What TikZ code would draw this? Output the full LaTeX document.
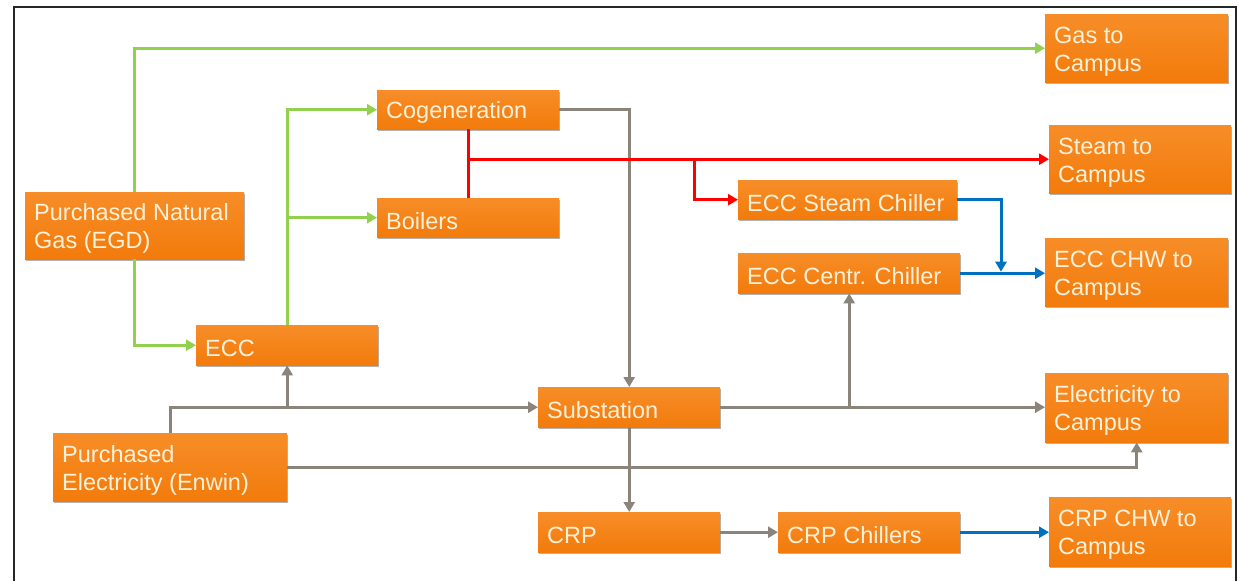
\documentclass[tikz,border=0pt]{standalone}
\usepackage{fontspec}
\setmainfont{Liberation Sans}
\usetikzlibrary{arrows.meta,shadows}
\definecolor{boxorange}{HTML}{F27B0B}
\definecolor{boxtop}{HTML}{F78D28}
\definecolor{boxtext}{HTML}{FFF1DA}
\definecolor{lgreen}{HTML}{92D050}
\definecolor{lred}{HTML}{FF0000}
\definecolor{lgray}{HTML}{8A847B}
\definecolor{lblue}{HTML}{0070C0}
\tikzset{
  box/.style 2 args={anchor=north west, text width=#1pt, minimum height=#2pt,
    inner xsep=9pt, inner ysep=0pt, align=flush left,
    top color=boxtop, bottom color=boxorange, draw=none,
    font=\fontsize{23.5}{28}\selectfont, text=boxtext,
    execute at begin node={\rule{0pt}{23pt}},
    drop shadow={shadow xshift=1pt, shadow yshift=-2pt, fill=black, opacity=0.3}},
  conn/.style={line width=3pt, -{Triangle[length=10pt,width=11pt]}},
  gline/.style={conn, draw=lgreen},
  rline/.style={conn, draw=lred},
  bline/.style={conn, draw=lblue},
  gyline/.style={conn, draw=lgray},
}
\begin{document}
\begin{tikzpicture}[x=1pt,y=-1pt]
\useasboundingbox (0,0) rectangle (1241,581);
\fill[white] (0,0) rectangle (1241,581);
\draw[line width=2pt, color=black!85] (14,581) -- (14,7) -- (1236,7) -- (1236,581);

% nodes
\node[box={165}{68}] (gas) at (1045,14) {Gas to\\Campus};
\node[box={164}{68}] (steam) at (1049,125) {Steam to\\Campus};
\node[box={165}{68}] (eccchw) at (1045,238) {ECC CHW to\\Campus};
\node[box={165}{69}] (elec) at (1045,373) {Electricity to\\Campus};
\node[box={164}{69}] (crpchw) at (1049,497) {CRP CHW to\\Campus};
\node[box={164}{39}] (cogen) at (377,90) {Cogeneration};
\node[box={164}{39}] (boil) at (377,198) {Boilers};
\node[box={201}{39}] (esc) at (738,180) {ECC Steam Chiller};
\node[box={204}{40}] (ecent) at (738,253) {ECC Centr. Chiller};
\node[box={201}{67}] (png) at (25,192) {Purchased Natural\\Gas (EGD)};
\node[box={164}{40}] (ecc) at (196,325) {ECC};
\node[box={164}{40}] (sub) at (538,387) {Substation};
\node[box={216}{68}] (pe) at (53,433) {Purchased\\Electricity (Enwin)};
\node[box={164}{40}] (crp) at (538,512) {CRP};
\node[box={164}{40}] (crpch) at (778,512) {CRP Chillers};

\coordinate (redbr) at (694,0);
\coordinate (bluej) at (1001,0);

% gray (electricity)
\draw[gyline] (cogen.east) -| (sub.north);
\draw[gyline] (pe.north) |- (sub.west);
\draw[gyline] (ecc.south |- sub.west) -- (ecc.south);
\draw[gyline] (sub.east) -- (sub.east -| elec.west);
\draw[gyline] (ecent.south |- sub.east) -- (ecent.south);
\draw[gyline] (sub.south) -- (crp.north);
\draw[gyline] (pe.east) -| (elec.south);
\draw[gyline] (crp.east) -- (crpch.west);

% green (gas)
\draw[gline] (png.north) |- (gas.west);
\draw[gline] (png.south) |- (ecc.west);
\draw[gline] (ecc.north) |- (cogen.west);
\draw[gline] (ecc.north |- boil.west) -- (boil.west);

% red (steam)
\draw[line width=3pt, draw=lred] (cogen.south) -- (boil.north);
\draw[rline] (cogen.south |- steam.west) -- (steam.west);
\draw[rline] (redbr |- steam.west) |- (esc.west);

% blue (chilled water)
\draw[bline, shorten >=1.5pt] (esc.east) -| (bluej |- ecent.east);
\draw[bline] (ecent.east) -- (ecent.east -| eccchw.west);
\draw[bline] (crpch.east) -- (crpch.east -| crpchw.west);
\end{tikzpicture}
\end{document}
